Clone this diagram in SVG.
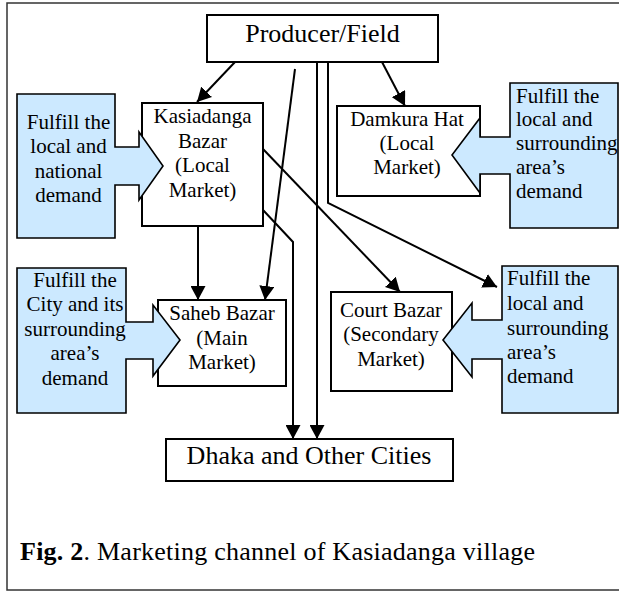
<svg xmlns="http://www.w3.org/2000/svg" width="619" height="592" viewBox="0 0 619 592">
  <style>
    .frame { fill: #ffffff; stroke: #333333; stroke-width: 1.5; }
    .box { fill: #ffffff; stroke: #000000; stroke-width: 2; }
    .callout { fill: #cce9ff; stroke: #000000; stroke-width: 1.6; stroke-linejoin: miter; }
    .t { font-family: "Liberation Serif", "Times New Roman", serif; fill: #000000; }
    .big { font-size: 26px; }
    .small { font-size: 21px; }
    .mid { text-anchor: middle; }
    .conn { fill: none; stroke: #000000; stroke-width: 2; marker-end: url(#arrow); }
  </style>
  <defs>
    <marker id="arrow" markerUnits="userSpaceOnUse" markerWidth="15" markerHeight="15" refX="14" refY="7.5" orient="auto">
      <path d="M0,0 L14,7.5 L0,15 z" fill="#000000"/>
    </marker>
  </defs>

  <!-- outer frame -->
  <rect class="frame" x="7" y="3" width="630" height="587"/>

  <!-- market nodes -->
  <g id="producer">
    <rect class="box" x="207" y="15" width="231" height="47"/>
    <text class="t big mid" x="322.5" y="42">Producer/Field</text>
  </g>
  <g id="kasiadanga">
    <rect class="box" x="142" y="103" width="121" height="123"/>
    <text class="t small mid" x="202.5" y="123">Kasiadanga</text>
    <text class="t small mid" x="202.5" y="148">Bazar</text>
    <text class="t small mid" x="202.5" y="172">(Local</text>
    <text class="t small mid" x="202.5" y="197">Market)</text>
  </g>
  <g id="damkura">
    <rect class="box" x="337" y="106" width="143" height="90"/>
    <text class="t small mid" x="407" y="126">Damkura Hat</text>
    <text class="t small mid" x="407" y="150">(Local</text>
    <text class="t small mid" x="407" y="174">Market)</text>
  </g>
  <g id="saheb">
    <rect class="box" x="158" y="300" width="128" height="86"/>
    <text class="t small mid" x="222" y="320">Saheb Bazar</text>
    <text class="t small mid" x="222" y="345">(Main</text>
    <text class="t small mid" x="222" y="369">Market)</text>
  </g>
  <g id="court">
    <rect class="box" x="331" y="292" width="121" height="99"/>
    <text class="t small mid" x="391" y="317">Court Bazar</text>
    <text class="t small mid" x="391" y="341">(Secondary</text>
    <text class="t small mid" x="391" y="366">Market)</text>
  </g>
  <g id="dhaka">
    <rect class="box" x="166" y="439" width="287" height="42"/>
    <text class="t big mid" x="309" y="464">Dhaka and Other Cities</text>
  </g>

  <!-- demand callouts -->
  <g id="callout-kasiadanga">
    <path class="callout" d="M17,94 L115,94 L115,147 L139,147 L139,132 L163,166 L139,200 L139,185 L115,185 L115,238 L17,238 Z"/>
    <text class="t small mid" x="68.5" y="129">Fulfill the</text>
    <text class="t small mid" x="68.5" y="153">local and</text>
    <text class="t small mid" x="68.5" y="178">national</text>
    <text class="t small mid" x="68.5" y="202">demand</text>
  </g>
  <g id="callout-saheb">
    <path class="callout" d="M17,268 L126,268 L126,322 L153,322 L153,305 L180,340 L153,376 L153,359 L126,359 L126,413 L17,413 Z"/>
    <text class="t small mid" x="75" y="287">Fulfill the</text>
    <text class="t small mid" x="75" y="311">City and its</text>
    <text class="t small mid" x="75" y="336">surrounding</text>
    <text class="t small mid" x="75" y="360">area’s</text>
    <text class="t small mid" x="75" y="385">demand</text>
  </g>
  <g id="callout-damkura">
    <path class="callout" d="M510,83 L618,83 L618,228 L510,228 L510,174 L480,174 L480,193 L452,155 L480,118 L480,137 L510,137 Z"/>
    <text class="t small" x="516" y="103">Fulfill the</text>
    <text class="t small" x="516" y="126">local and</text>
    <text class="t small" x="516" y="150">surrounding</text>
    <text class="t small" x="516" y="174">area’s</text>
    <text class="t small" x="516" y="198">demand</text>
  </g>
  <g id="callout-court">
    <path class="callout" d="M502,266 L618,266 L618,413 L502,413 L502,359 L472,359 L472,377 L443,340 L472,303 L472,320 L502,320 Z"/>
    <text class="t small" x="507" y="285">Fulfill the</text>
    <text class="t small" x="507" y="310">local and</text>
    <text class="t small" x="507" y="335">surrounding</text>
    <text class="t small" x="507" y="359">area’s</text>
    <text class="t small" x="507" y="383">demand</text>
  </g>

  <!-- marketing flows -->
  <g id="connectors">
    <path class="conn" d="M235,62 L197,102"/>
    <path class="conn" d="M382,62 L405,106"/>
    <path class="conn" d="M295,69 L265,300"/>
    <path class="conn" d="M198,226 L198,300"/>
    <path class="conn" d="M263,149 L400,292"/>
    <path class="conn" d="M263,210 L293,242 L293,439"/>
    <path class="conn" d="M317,62 L317,439"/>
    <path class="conn" d="M328,62 L328,203 L497,287"/>
  </g>

  <!-- caption -->
  <text class="t big" x="20" y="560" textLength="515" lengthAdjust="spacing"><tspan font-weight="bold">Fig. 2</tspan>. Marketing channel of Kasiadanga village</text>
</svg>
